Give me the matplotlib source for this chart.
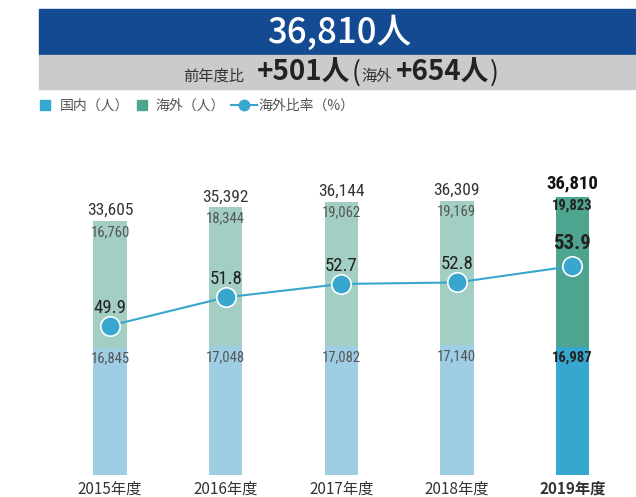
import matplotlib
matplotlib.use('Agg')
import matplotlib.pyplot as plt
from matplotlib import font_manager as fm
from matplotlib.patches import Rectangle
from matplotlib.lines import Line2D

# ---------------- data ----------------
years = ['2015年度', '2016年度', '2017年度', '2018年度', '2019年度']
domestic = [16845, 17048, 17082, 17140, 16987]
overseas = [16760, 18344, 19062, 19169, 19823]
totals = [33605, 35392, 36144, 36309, 36810]
ratio = [49.9, 51.8, 52.7, 52.8, 53.9]
headline = '36,810人'
sub_label = '前年度比'
sub_total = '+501人'
sub_overseas_label = '海外'
sub_overseas = '+654人'
legend_labels = ['国内（人）', '海外（人）', '海外比率（%）']

# ---------------- fonts ----------------
JP = 'Noto Sans CJK JP'


def find_condensed(bold):
    pref = ['robotocondensed', 'liberationsansnarrow', 'dejavusanscondensed',
            'opensanscondensed', 'notosanscondensed', 'narrow', 'condensed']
    found = []
    for f in fm.fontManager.ttflist:
        n = f.fname.lower().replace('-', '').replace('_', '').replace(' ', '')
        if 'italic' in n or 'oblique' in n:
            continue
        if ('narrow' not in n) and ('condensed' not in n):
            continue
        isbold = 'bold' in n and 'semibold' not in n and 'extrabold' not in n
        if isbold != bold:
            continue
        if any(k in n for k in ['light', 'thin', 'black', 'medium', 'semi', 'extra']):
            continue
        rank = next((i for i, k in enumerate(pref) if k in n), len(pref))
        found.append((rank, f.fname))
    if found:
        found.sort()
        return fm.FontProperties(fname=found[0][1])
    return fm.FontProperties(family='DejaVu Sans', stretch='condensed',
                             weight='bold' if bold else 'normal')


NR = find_condensed(False)
NB = find_condensed(True)


def nfont(bold, size):
    p = (NB if bold else NR).copy()
    p.set_size(size)
    return p


c_banner = '#134a91'
c_gray = '#cbcbcd'
c_dom = '#9fcee4'
c_ov = '#a2cec3'
c_dom_hi = '#36a7ce'
c_ov_hi = '#4ea58f'
c_line = '#38a6cf'
c_text = '#333333'

W, H = 636, 497
fig = plt.figure(figsize=(W / 100, H / 100), dpi=100)
renderer = fig.canvas.get_renderer()


def fx(px):
    return px / W


def fy(py):
    return 1 - py / H


# banner
fig.patches.append(Rectangle((fx(39), fy(55)), fx(636) - fx(39), (55 - 9) / H,
                             transform=fig.transFigure, color=c_banner, zorder=0))
fig.patches.append(Rectangle((fx(39), fy(88.5)), fx(636) - fx(39), (88.5 - 55) / H,
                             transform=fig.transFigure, color=c_gray, zorder=0))
fig.text(fx(339), fy(42.5), headline, color='white', fontsize=25, family=JP,
         fontweight='medium', ha='center', va='baseline')

# comparison line, chained left to right
pieces = [(sub_label, 11, 'normal', c_text, 0),
          (sub_total, 20, 'bold', '#222222', 13),
          ('(', 19, 'normal', '#222222', 1),
          (sub_overseas_label, 11, 'normal', c_text, 1),
          (sub_overseas, 20, 'bold', '#222222', 4),
          (')', 19, 'normal', '#222222', 1)]
xpos = 183
for txt, sz, wt, col, gap in pieces:
    xpos += gap
    t = fig.text(fx(xpos), fy(81), txt, color=col, fontsize=sz, family=JP, fontweight=wt,
                 va='baseline', ha='left')
    bb = t.get_window_extent(renderer)
    xpos += bb.width

# legend
fig.patches.append(Rectangle((fx(40), fy(110)), 10 / W, 10 / H, transform=fig.transFigure,
                             color=c_dom_hi))
fig.text(fx(60), fy(110), legend_labels[0], color='#555555', fontsize=10, family=JP,
         va='baseline')
fig.patches.append(Rectangle((fx(137), fy(110)), 10 / W, 10 / H, transform=fig.transFigure,
                             color=c_ov_hi))
fig.text(fx(155), fy(110), legend_labels[1], color='#555555', fontsize=10, family=JP,
         va='baseline')
fig.lines.append(Line2D([fx(231), fx(257)], [fy(105), fy(105)], transform=fig.transFigure,
                        color=c_line, lw=1.5))
fig.lines.append(Line2D([fx(244)], [fy(105)], transform=fig.transFigure,
                        color=c_line, marker='o', ms=7.5, mec=c_line))
fig.text(fx(258), fy(110), legend_labels[2], color='#555555', fontsize=10, family=JP,
         va='baseline')

# chart axes
ax = fig.add_axes([0, fy(475), 1, (475 - 140) / H])
step = 115.6
ax.set_xlim(-110 / step, (636 - 110) / step)
ax.set_ylim(0, 335 / 0.00756)
ax.axis('off')

x = list(range(len(years)))
n = len(years)
dom_colors = [c_dom] * (n - 1) + [c_dom_hi]
ov_colors = [c_ov] * (n - 1) + [c_ov_hi]
bw = 33.4 / step
ax.bar(x, domestic, width=bw, color=dom_colors, zorder=1)
ax.bar(x, overseas, bottom=domestic, width=bw, color=ov_colors, zorder=1)

ax2 = ax.twinx()
ax2.set_ylim(39.88, 62.36)
ax2.axis('off')
ax2.plot(x, ratio, color=c_line, lw=1.5, zorder=3)
ax2.plot(x, ratio, linestyle='none', marker='o', ms=14, mfc=c_line, mec='white', mew=1.2,
         zorder=4)

for i in x:
    last = (i == n - 1)
    ax.annotate(f'{totals[i]:,}', (i, totals[i]), xytext=(0, 8 if last else 6),
                textcoords='offset pixels', ha='center', va='baseline',
                fontproperties=nfont(last, 13.5 if last else 12.5),
                color='#111111' if last else c_text)
    ax.annotate(f'{overseas[i]:,}', (i, totals[i]), xytext=(0, -13 if last else -15),
                textcoords='offset pixels', ha='center', va='baseline',
                fontproperties=nfont(last, 10.5),
                color='#222222' if last else '#555555')
    ax.annotate(f'{domestic[i]:,}', (i, domestic[i]), xytext=(0, -15),
                textcoords='offset pixels', ha='center', va='baseline',
                fontproperties=nfont(last, 10.5),
                color='#222222' if last else '#555555')
    ax2.annotate(f'{ratio[i]:.1f}', (i, ratio[i]), xytext=(0, 17 if last else 13),
                 textcoords='offset pixels', ha='center', va='baseline',
                 fontproperties=nfont(last, 15 if last else 13.5),
                 color='#222222')
    ax.annotate(years[i], (i, 0), xytext=(0, -19), textcoords='offset pixels',
                ha='center', va='baseline', fontsize=11, family=JP,
                fontweight='bold' if last else 'normal', color=c_text)

fig.savefig('out.png', dpi=100)
